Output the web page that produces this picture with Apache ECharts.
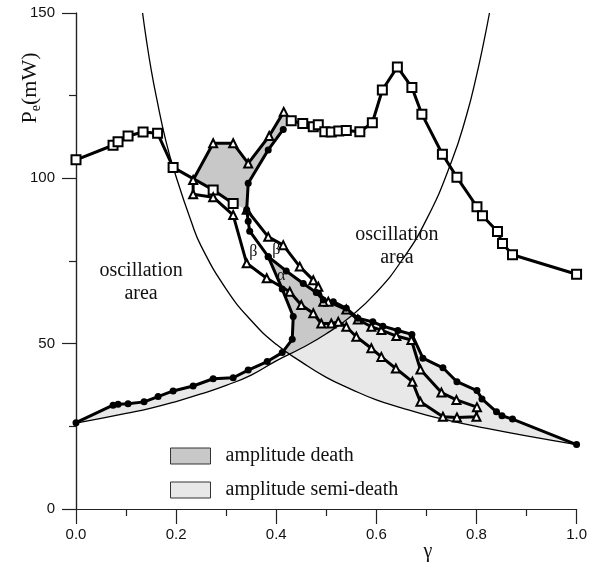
<!DOCTYPE html>
<html>
<head>
<meta charset="utf-8">
<script src="https://cdn.jsdelivr.net/npm/echarts@6/dist/echarts.min.js"></script>
<style>
  html, body { margin: 0; padding: 0; background: #fff; }
  #chart { width: 590px; height: 564px; }
</style>
</head>
<body>
<div id="chart"></div>
<script>
// thin boundary curves [gamma, Pe]
const curveA = [[0.133,150],[0.14,142.5],[0.15,133],[0.16,125],[0.18,111],[0.2,100.5],[0.23,87],[0.25,79.5],[0.3,66.5],[0.35,57],[0.4,49.8],[0.45,44.5],[0.5,39.8],[0.55,36.2],[0.6,33],[0.65,30.6],[0.7,28.4],[0.75,26.6],[0.8,25],[0.9,22.1],[1.0,19.5]]
const curveB = [[0,26],[0.05,27.4],[0.1,28.9],[0.15,30.5],[0.2,32.5],[0.25,34.8],[0.3,37.4],[0.35,40.5],[0.4,44.8],[0.45,48.6],[0.5,53],[0.55,58.4],[0.6,65.5],[0.65,75],[0.7,87.5],[0.75,105],[0.78,119],[0.8,131],[0.815,141.5],[0.826,150]]
const crossAB = [0.428, 46.8]   // where the two thin curves meet
const meetBC = [0.553, 58.9]    // curve B meets right circle branch

// open squares
const squaresLeft = [[0,105.6],[0.074,110],[0.084,111.1],[0.104,112.8],[0.134,114],[0.163,113.6],[0.194,103.3],[0.274,96.5],[0.314,92.4]]
const squaresRight = [[0.43,117.4],[0.453,116.6],[0.474,115.6],[0.484,116.2],[0.497,114.1],[0.51,114],[0.525,114.3],[0.54,114.5],[0.567,114.1],[0.592,116.8],[0.612,126.7],[0.642,133.7],[0.671,127.5],[0.691,119.4],[0.732,107.3],[0.761,100.3],[0.801,91.4],[0.812,88.7],[0.842,83.9],[0.852,80.3],[0.872,76.9],[1.0,71]]

// filled circles
const circlesLeft = [[0,26.1],[0.074,31.4],[0.084,31.7],[0.104,31.8],[0.136,32.4],[0.164,34],[0.194,35.7],[0.234,37.2],[0.274,39.4],[0.314,39.7],[0.344,42],[0.382,44.6],[0.412,47.3],[0.432,51.3],[0.434,58.2],[0.412,66.5],[0.384,76.3],[0.347,84],[0.344,87],[0.341,90.5],[0.344,98.5],[0.384,108.6],[0.414,114.8]]
const circlesRight = [[0.384,76.3],[0.42,72],[0.454,68.2],[0.48,65.5],[0.494,63.2],[0.514,62.7],[0.54,60.7],[0.563,57.7],[0.593,56.6],[0.613,55.3],[0.643,54],[0.671,52.8],[0.693,45.6],[0.733,42.7],[0.761,38.5],[0.801,35.8],[0.811,33.3],[0.84,29.4],[0.851,28.2],[0.872,27.2],[1.0,19.5]]

// open triangles (one looped path)
const triangles = [[0.415,120.1],[0.386,112.8],[0.344,104.5],[0.314,110.6],[0.274,110.6],[0.234,99.5],[0.234,95.2],[0.274,94.3],[0.314,88.9],[0.341,74.3],[0.381,69.8],[0.427,65.7],[0.45,61.7],[0.474,59.2],[0.49,56.1],[0.51,56.1],[0.524,56.6],[0.54,55.1],[0.56,52.1],[0.59,48.6],[0.61,46],[0.639,42.5],[0.672,38.5],[0.688,32.4],[0.733,27.9],[0.761,27.7],[0.8,27.9],[0.801,30.8],[0.76,33],[0.73,35.2],[0.688,42.2],[0.67,51.1],[0.64,52.3],[0.61,54.1],[0.59,55.1],[0.563,57.3],[0.54,60.3],[0.504,62.7],[0.494,62.7],[0.484,67.2],[0.474,69.2],[0.447,73.3],[0.414,79.8],[0.384,82.3],[0.341,90.5]]

const xTicks = [0, 0.2, 0.4, 0.6, 0.8, 1.0]
const yTicks = [0, 50, 100, 150]

// shaded regions, pieced together from the lines above
const deathUpper = [...triangles.slice(0, 6), ...squaresLeft.slice(7), ...circlesLeft.slice(19), squaresRight[0]]
const deathMiddle = [...circlesLeft.slice(12, 17), ...circlesRight.slice(1, 7), meetBC, ...curveB.slice(9, 11).reverse(), crossAB]
const semiLeft = [...circlesLeft.slice(0, 13), ...curveB.slice(0, 9).reverse()]
const semiRight = [crossAB, ...curveB.slice(9, 11), meetBC, ...circlesRight.slice(7), ...curveA.slice(11).reverse()]

const DARK = '#c8c8c8'
const LIGHT = '#e8e8e8'
const SERIF = 'Liberation Serif'
const SANS = 'Liberation Sans'

function region(name, pts, fill) {
  return {
    name,
    type: 'custom',
    data: pts,
    encode: { x: 0, y: 1 },
    silent: true,
    z: 1,
    itemStyle: { color: fill },
    renderItem: (params, api) => {
      if (params.dataIndex !== 0) return null
      return {
        type: 'polygon',
        shape: { points: pts.map(p => api.coord(p)) },
        style: { fill, stroke: null },
      }
    },
  }
}

function thin(data) {
  return {
    type: 'line', data, smooth: true, symbol: 'none', z: 3,
    lineStyle: { color: '#000', width: 1.3 }, silent: true,
  }
}

function thick(data, symbol, size) {
  return {
    type: 'line', data, symbol, symbolSize: size, z: 4, silent: true,
    lineStyle: { color: '#000', width: 3 },
    itemStyle: { color: '#000', borderWidth: 1.5 },
  }
}

const chart = echarts.init(document.getElementById('chart'), null, { renderer: 'canvas' })

chart.setOption({
  animation: false,
  backgroundColor: '#fff',
  grid: { left: 76, right: 13, top: 13, bottom: 55 },
  legend: {
    data: ['amplitude death', 'amplitude semi-death'],
    orient: 'vertical',
    left: 165,
    top: 441,
    icon: 'rect',
    itemWidth: 40,
    itemHeight: 16,
    itemGap: 14,
    selectedMode: false,
    itemStyle: { borderColor: '#333', borderWidth: 1 },
    textStyle: { fontFamily: SERIF, fontSize: 20, color: '#111', padding: [0, 0, 0, 10] },
  },
  xAxis: {
    type: 'value', min: 0, max: 1, interval: 0.2,
    axisLine: { onZero: false, lineStyle: { color: '#222', width: 1.2 } },
    axisTick: { length: 15, lineStyle: { color: '#222', width: 1.2 } },
    minorTick: { show: true, splitNumber: 2, length: 7, lineStyle: { color: '#222', width: 1.2 } },
    axisLabel: {
      margin: 18, fontFamily: SANS, fontSize: 15, color: '#111',
      formatter: v => xTicks.some(t => Math.abs(t - v) < 1e-9) ? v.toFixed(1) : '',
    },
    splitLine: { show: false },
  },
  yAxis: [
    {
      type: 'value', min: 0, max: 150, interval: 50,
      axisLine: { show: true, onZero: false, lineStyle: { color: '#222', width: 1.2 } },
      axisTick: { show: true, length: 14, lineStyle: { color: '#222', width: 1.2 } },
      minorTick: { show: true, splitNumber: 2, length: 7, lineStyle: { color: '#222', width: 1.2 } },
      axisLabel: {
        margin: 21, fontFamily: SANS, fontSize: 15, color: '#111',
        formatter: v => yTicks.includes(v) ? String(v) : '',
      },
      splitLine: { show: false },
    },
    {
      type: 'value', min: 0, max: 150, position: 'right',
      axisLine: { show: true, lineStyle: { color: '#222', width: 1.2 } },
      axisTick: { show: false }, axisLabel: { show: false }, splitLine: { show: false },
    },
  ],
  series: [
    region('amplitude semi-death', semiLeft, LIGHT),
    region('amplitude semi-death', semiRight, LIGHT),
    region('amplitude death', deathUpper, DARK),
    region('amplitude death', deathMiddle, DARK),
    thin(curveA),
    thin(curveB),
    thick(squaresLeft, 'emptyRect', 9),
    thick(squaresRight, 'emptyRect', 9),
    thick(triangles, 'emptyTriangle', 8),
    thick(circlesLeft, 'circle', 7),
    thick(circlesRight, 'circle', 7),
  ],
})

// annotations anchored to data positions
const at = (x, y) => chart.convertToPixel({ gridIndex: 0 }, [x, y])
const note = (x, y, text, size) => {
  const [px, py] = at(x, y)
  return {
    type: 'text', x: px, y: py, z: 10, silent: true,
    style: { text, fontFamily: SERIF, fontSize: size, fill: '#111', align: 'center', verticalAlign: 'middle', lineHeight: 23 },
  }
}
const [gx] = at(0.703, 0)

chart.setOption({
  graphic: [
    note(0.13, 68.7, 'oscillation\narea', 20),
    note(0.641, 79.4, 'oscillation\narea', 20),
    note(0.354, 77.8, 'β', 16),
    note(0.40, 78.3, 'β', 16),
    note(0.41, 70.5, 'α', 16),
    {
      type: 'text', x: gx, y: 552, silent: true,
      style: { text: 'γ', fontFamily: SERIF, fontSize: 20, fill: '#111', align: 'center', verticalAlign: 'middle' },
    },
    {
      type: 'text', x: 30, y: 88, rotation: Math.PI / 2, silent: true,
      style: {
        text: '{p|P}{s|e}{p|(mW)}',
        align: 'center', verticalAlign: 'middle',
        rich: {
          p: { fontFamily: SERIF, fontSize: 22, fill: '#111', lineHeight: 26 },
          s: { fontFamily: SERIF, fontSize: 14, fill: '#111', verticalAlign: 'bottom', lineHeight: 14 },
        },
      },
    },
  ],
})
</script>
</body>
</html>
